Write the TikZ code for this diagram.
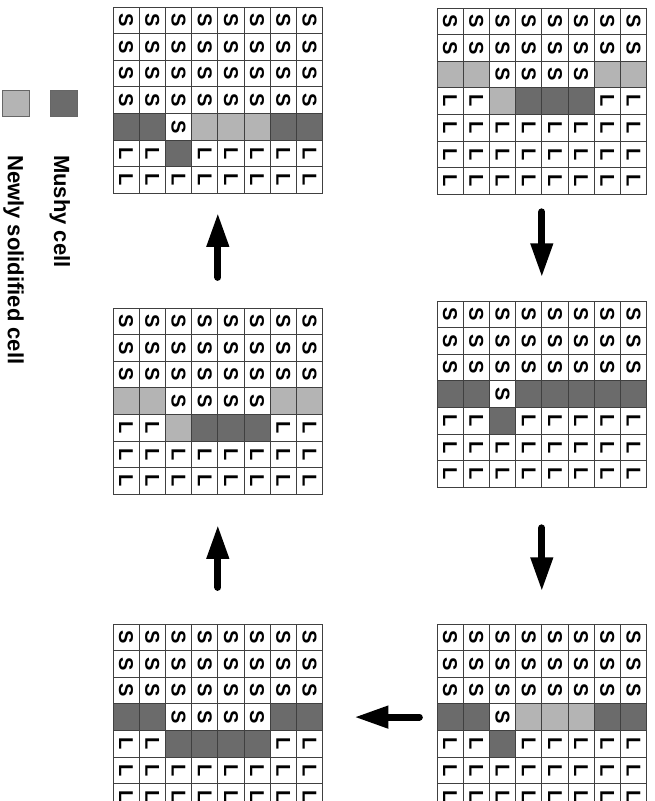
\documentclass[tikz,border=0pt]{standalone}
\usepackage{fontspec}
\setmainfont{Liberation Sans}
\usetikzlibrary{arrows.meta,fit}

\definecolor{mushy}{HTML}{6B6B6B}
\definecolor{newsolid}{HTML}{B4B4B4}
\colorlet{fillS}{white}
\colorlet{fillL}{white}
\colorlet{filld}{mushy}
\colorlet{fillg}{newsolid}
\newcommand{\txtS}{S}
\newcommand{\txtL}{L}
\newcommand{\txtd}{}
\newcommand{\txtg}{}

% one 8x7 grid: name, left, top, rows
\newcommand{\cellgrid}[4]{%
  \foreach \row [count=\r] in {#4}{%
    \foreach \c [count=\k] in \row{%
      \node[cell,fill=fill\c] (#1-\r-\k) at ({#2+(\k-0.5)*26.2},{#3+(\r-0.5)*26.6})
        {\rotatebox{-90}{\csname txt\c\endcsname}};
    }
  }
  \node[fit=(#1-1-1)(#1-7-8),inner sep=0pt] (#1) {};
}

\begin{document}
\begin{tikzpicture}[x=1pt,y=-1pt,
  cell/.style={draw=black!75,line width=0.9pt,minimum width=26.2pt,minimum height=26.6pt,
    inner sep=0pt,font=\fontsize{20}{20}\selectfont\bfseries},
  key/.style={draw=black!60,line width=0.8pt,minimum size=26.5pt,inner sep=0pt},
  keytext/.style={rotate=-90,anchor=base west,inner sep=0pt,font=\fontsize{22}{24}\selectfont\bfseries},
  flow/.style={line width=7pt,line cap=round,-{Triangle[length=34pt,width=21pt]}}]
  \useasboundingbox (0,0) rectangle (655,801);
  \clip (0,0) rectangle (655,801);

  \cellgrid{g1}{437}{8}{{S,S,S,S,S,S,S,S},{S,S,S,S,S,S,S,S},{g,g,S,S,S,S,g,g},
    {L,L,g,d,d,d,L,L},{L,L,L,L,L,L,L,L},{L,L,L,L,L,L,L,L},{L,L,L,L,L,L,L,L}}
  \cellgrid{g2}{437}{301}{{S,S,S,S,S,S,S,S},{S,S,S,S,S,S,S,S},{S,S,S,S,S,S,S,S},
    {d,d,S,d,d,d,d,d},{L,L,d,L,L,L,L,L},{L,L,L,L,L,L,L,L},{L,L,L,L,L,L,L,L}}
  \cellgrid{g3}{437}{624}{{S,S,S,S,S,S,S,S},{S,S,S,S,S,S,S,S},{S,S,S,S,S,S,S,S},
    {d,d,S,g,g,g,d,d},{L,L,d,L,L,L,L,L},{L,L,L,L,L,L,L,L},{L,L,L,L,L,L,L,L}}
  \cellgrid{g4}{113}{7}{{S,S,S,S,S,S,S,S},{S,S,S,S,S,S,S,S},{S,S,S,S,S,S,S,S},
    {S,S,S,S,S,S,S,S},{d,d,S,g,g,g,d,d},{L,L,d,L,L,L,L,L},{L,L,L,L,L,L,L,L}}
  \cellgrid{g5}{113}{308}{{S,S,S,S,S,S,S,S},{S,S,S,S,S,S,S,S},{S,S,S,S,S,S,S,S},
    {g,g,S,S,S,S,g,g},{L,L,g,d,d,d,L,L},{L,L,L,L,L,L,L,L},{L,L,L,L,L,L,L,L}}
  \cellgrid{g6}{113}{624}{{S,S,S,S,S,S,S,S},{S,S,S,S,S,S,S,S},{S,S,S,S,S,S,S,S},
    {d,d,S,S,S,S,d,d},{L,L,d,d,d,d,L,L},{L,L,L,L,L,L,L,L},{L,L,L,L,L,L,L,L}}

  % legend
  \node[key,fill=newsolid] (ksolid) at (16,103.5) {};
  \node[key,fill=mushy] (kmushy) at (64,103.5) {};
  \node[keytext] (tmushy) at (54,155) {Mushy cell};
  \node[keytext] (tsolid) at (8,155) {Newly solidified cell};

  % sequence
  \draw[flow,shorten <=17pt,shorten >=23pt] (g1.south) -- (g2.north);
  \draw[flow,shorten <=40pt,shorten >=32pt] (g2.south) -- (g3.north);
  \draw[flow,shorten <=17pt,shorten >=31pt] (g3.west) -- (g6.east);
  \draw[flow,shorten <=36pt,shorten >=30pt] (g6.north) -- (g5.south);
  \draw[flow,shorten <=30pt,shorten >=19pt] (g5.north) -- (g4.south);
\end{tikzpicture}
\end{document}
